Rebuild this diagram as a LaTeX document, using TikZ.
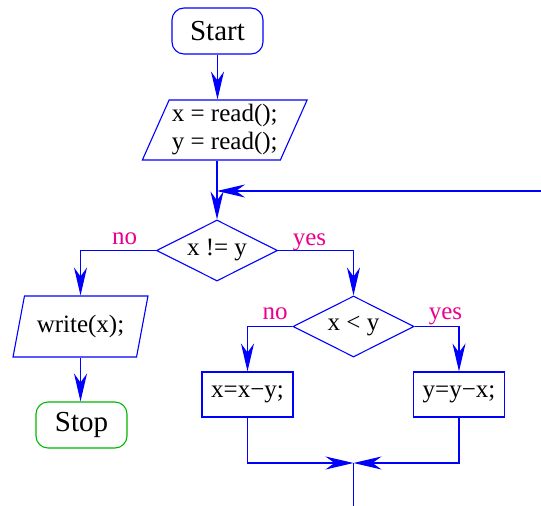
\documentclass[tikz,border=0pt]{standalone}
\usepackage{fontspec}
\setmainfont{Liberation Serif}
\usetikzlibrary{shapes.geometric,arrows.meta}
\definecolor{stopgreen}{rgb}{0,0.72,0}
\begin{document}
\begin{tikzpicture}[x=1pt, y=-1pt,
  every node/.style={font=\fontsize{25}{28}\selectfont, inner sep=0pt},
  term/.style={draw, line width=1.1pt, rounded corners=12pt, minimum width=91pt, minimum height=46pt, font=\fontsize{29}{32}\selectfont},
  io/.style={draw=blue, line width=1.1pt, trapezium, trapezium stretches=true, align=center, minimum height=61pt},
  cond/.style={draw=blue, line width=1.1pt, diamond, aspect=2, minimum width=121pt, minimum height=61pt},
  stepbox/.style={draw=blue, line width=1.1pt, minimum width=91pt, minimum height=45pt},
  lbl/.style={text=magenta, anchor=base},
  flow/.style={draw=blue, line width=1.1pt, -{Stealth[length=28pt,width=13pt,inset=9pt]}},
  plain/.style={draw=blue, line width=1.1pt}]
\useasboundingbox (0,0) rectangle (541,506);
\node[term, draw=blue] (start) at (217.5,31) {Start};
\node[io, minimum width=165pt, minimum height=60pt, trapezium left angle=63.4, trapezium right angle=116.6] (read) at (224.75,130) {x = read();\\y = read();};
\node[cond] (ne) at (217,250.5) {x != y};
\node[io, minimum width=135pt, trapezium left angle=68.5, trapezium right angle=111.5] (write) at (80.5,326.5) {write(x);};
\node[term, draw=stopgreen] (stop) at (81.5,425) {Stop};
\node[cond] (lt) at (353.5,326.5) {x < y};
\node[stepbox] (subx) at (247.5,394.5) {x=x−y;};
\node[stepbox] (suby) at (459,394.5) {y=y−x;};
\coordinate (loopin) at (541,191);
\coordinate (merge) at (353.5,463);
\coordinate (out) at (353.5,506);
% labels on the branches
\node[lbl] (no1) at (124.5,244) {no};
\node[lbl] (yes1) at (309.5,245) {yes};
\node[lbl] (no2) at (275,319) {no};
\node[lbl] (yes2) at (445.5,319) {yes};
% connectors
\draw[flow] (start) -- (start |- read.north);
\draw[flow] (ne.north |- read.south) -- (ne.north);
\draw[flow] (loopin) -- (ne.north |- loopin);
\draw[flow] (ne.west) -| (write.north);
\draw[flow] (write.south) -- (write.south |- stop.north);
\draw[flow] (ne.east) -| (lt.north);
\draw[flow] (lt.west) -| (subx.north);
\draw[flow] (lt.east) -| (suby.north);
\draw[flow] (subx.south) |- (merge);
\draw[flow] (suby.south) |- (merge);
\draw[plain] (merge) -- (out);
\end{tikzpicture}
\end{document}
